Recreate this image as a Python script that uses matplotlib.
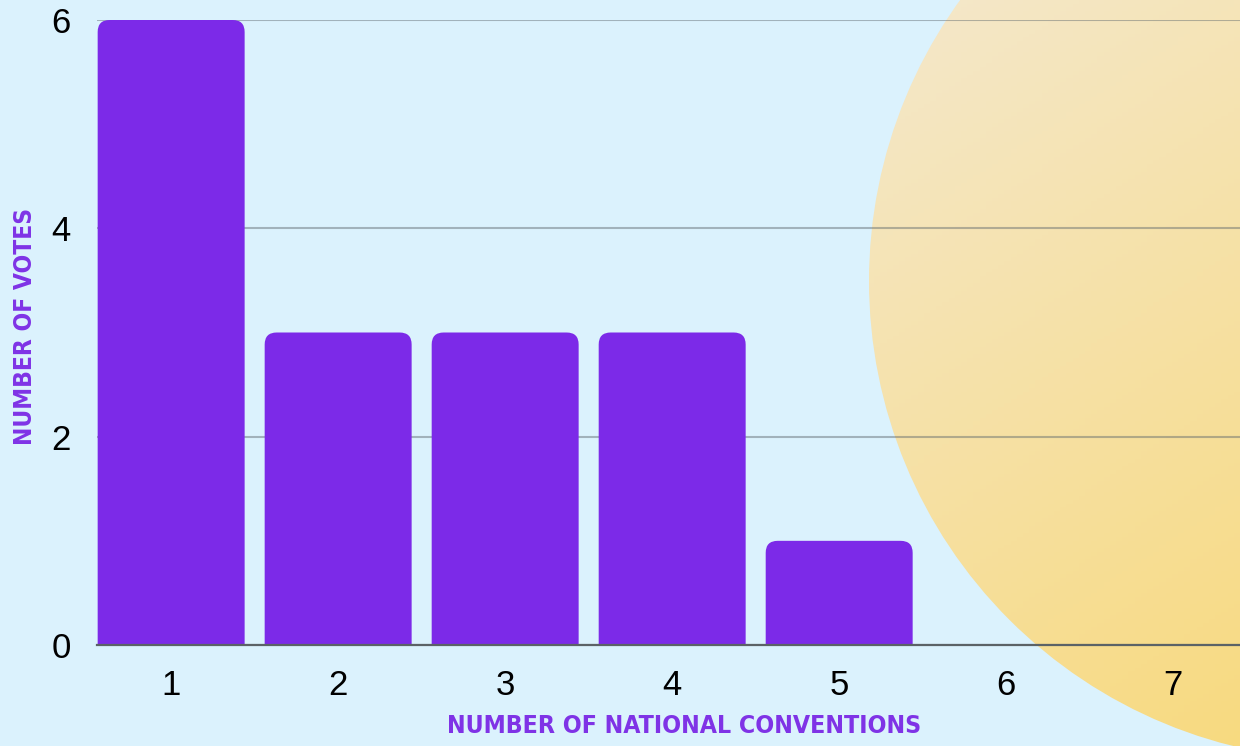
import numpy as np
import matplotlib
matplotlib.use("Agg")
import matplotlib.pyplot as plt
from matplotlib import font_manager
from matplotlib.patches import Circle, FancyBboxPatch

# data
conventions = [1, 2, 3, 4, 5, 6, 7]
votes = [6, 3, 3, 3, 1, 0, 0]
y_ticks = [0, 2, 4, 6]

BG = "#dbf2fd"
PURPLE = "#7c2ae8"
LABEL_PURPLE = "#7f33e6"

# look for a bold condensed font for the axis titles
narrow_file = None
best = -1
for f in font_manager.fontManager.ttflist:
    nm = f.name + " " + f.fname
    if ("Narrow" in nm or "Condensed" in nm or f.stretch in ("condensed", "semi-condensed")) \
            and f.style == "normal":
        w = f.weight if isinstance(f.weight, int) else 400
        if "Bold" in f.fname and "Semi" not in f.fname and "Extra" not in f.fname:
            w = max(w, 700)
        score = 1000 - abs(w - 700)
        if score > best:
            best, narrow_file = score, f.fname
if narrow_file:
    title_font = font_manager.FontProperties(fname=narrow_file)
else:
    title_font = font_manager.FontProperties(family="Liberation Sans", weight="bold")

W, H = 1240, 746
fig = plt.figure(figsize=(W / 100, H / 100), dpi=100, facecolor=BG)

# background decoration: big gradient circle
bg = fig.add_axes([0, 0, 1, 1], zorder=0)
bg.set_xlim(0, W)
bg.set_ylim(H, 0)
bg.axis("off")
gx, gy = np.meshgrid(np.linspace(0, 1, 200), np.linspace(0, 1, 200))
t = np.clip(((gx - 0.7) * 1.0 + gy * 0.9) / 1.2, 0, 1)
c0 = np.array([244, 232, 204]) / 255
c1 = np.array([248, 218, 128]) / 255
img = c0[None, None, :] * (1 - t[..., None]) + c1[None, None, :] * t[..., None]
im = bg.imshow(img, extent=[0, W, H, 0], aspect="auto", zorder=0)
circ = Circle((1348, 281), 479, transform=bg.transData, facecolor="none", edgecolor="none")
bg.add_patch(circ)
im.set_clip_path(circ)

# main chart
ax = fig.add_axes([97 / W, 101 / H, 1 - 97 / W, 625 / H], zorder=1)
ax.set_facecolor("none")
bars = ax.bar(conventions, votes, width=0.88, color=PURPLE)
ax.set_xlim(0.556, 7.4)
ax.set_ylim(0, 6)

# rounded tops
rx = 12 / 167.0
ry = 12 / 104.2
for r in bars:
    x, w, h = r.get_x(), r.get_width(), r.get_height()
    r.remove()
    if h <= 0:
        continue
    p = FancyBboxPatch((x, -ry), w, h + ry,
                       boxstyle=f"round,pad=0,rounding_size={rx}",
                       mutation_aspect=ry / rx, facecolor=PURPLE,
                       edgecolor="none", zorder=2)
    ax.add_patch(p)

ax.set_yticks(y_ticks)
ax.set_xticks(conventions)
ax.yaxis.grid(True, color=(0.36, 0.40, 0.42), alpha=0.45, linewidth=1.5)
ax.set_axisbelow(True)
for s in ["top", "right", "left"]:
    ax.spines[s].set_visible(False)
ax.spines["bottom"].set_color("#5b6266")
ax.spines["bottom"].set_linewidth(1.6)
ax.spines["bottom"].set_zorder(3)
ax.tick_params(axis="both", length=0, labelsize=25, labelcolor="black")
ax.tick_params(axis="y", pad=19)
ax.tick_params(axis="x", pad=17)
for lab in ax.get_xticklabels() + ax.get_yticklabels():
    lab.set_fontfamily("Liberation Sans")

xl = fig.text(684 / W, 1 - 726 / H, "NUMBER OF NATIONAL CONVENTIONS", ha="center", va="center",
              fontproperties=title_font, fontsize=24, color=LABEL_PURPLE)
yl = fig.text(25 / W, 1 - 326 / H, "NUMBER OF VOTES", ha="center", va="center", rotation=90,
              fontproperties=title_font, fontsize=24, color=LABEL_PURPLE)

# fit the title lengths to the reference (474 px and 238 px)
fig.canvas.draw()
r = fig.canvas.get_renderer()
xw = xl.get_window_extent(r).width
xl.set_fontsize(min(30, 24 * 474 / xw))
yh = yl.get_window_extent(r).height
yl.set_fontsize(min(30, 24 * 238 / yh))

fig.savefig("out.png", dpi=100, facecolor=BG)
